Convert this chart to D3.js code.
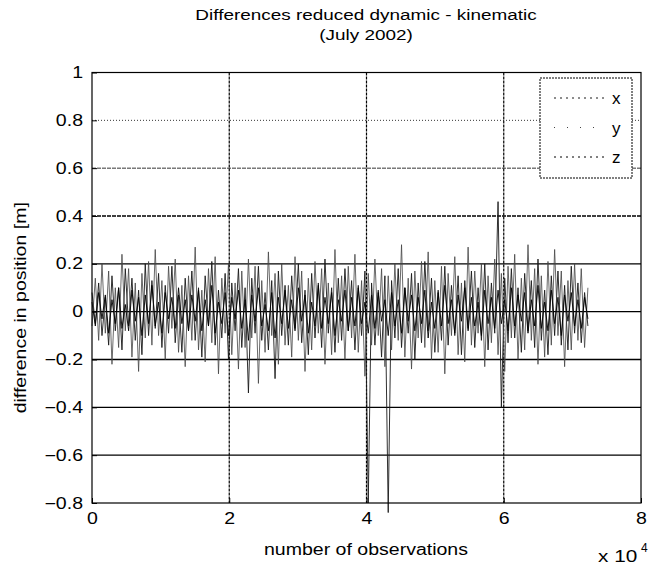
<!DOCTYPE html>
<html>
<head>
<meta charset="utf-8">
<script src="https://cdn.jsdelivr.net/npm/d3@7"></script>
<style>
  body { margin: 0; background: #fff; }
  svg { font-family: "Liberation Sans", Arial, sans-serif; }
</style>
</head>
<body>
<div id="chart"></div>
<script>
const width = 653;
const height = 566;
const margin = { top: 72.5, right: 12, bottom: 63, left: 92 };

// observations are equally spaced samples (every 485th epoch)
const obsStep = 485;

const xTicks = [0, 2, 4, 6, 8];
const yTicks = [-0.8, -0.6, -0.4, -0.2, 0, 0.2, 0.4, 0.6, 0.8, 1];

const diffX = [
  0.08,-0.05,0.12,-0.10,0.06,-0.14,0.15,-0.08,0.10,-0.16,0.18,-0.06,0.14,-0.12,0.09,-0.18,0.20,-0.10,0.13,-0.07,0.16,-0.15,0.11,-0.09,0.19,-0.13,0.07,-0.17,0.14,-0.08,
  0.17,-0.12,0.10,-0.19,0.15,-0.06,0.21,-0.14,0.09,-0.11,0.16,-0.20,0.12,-0.08,0.18,-0.15,0.10,-0.34,0.14,-0.09,0.19,-0.12,0.08,-0.16,0.13,-0.28,0.17,-0.10,0.11,-0.14,
  0.15,-0.07,0.20,-0.13,0.09,-0.18,0.16,-0.11,0.12,-0.15,0.22,-0.09,0.10,-0.17,0.14,-0.12,0.18,-0.08,0.13,-0.16,0.11,-0.10,0.17,-0.80,0.12,-0.14,0.09,-0.19,0.15,-0.84,
  0.13,-0.11,0.18,-0.15,0.10,-0.09,0.16,-0.20,0.12,-0.13,0.21,-0.08,0.14,-0.17,0.09,-0.12,0.19,-0.14,0.11,-0.10,0.15,-0.18,0.13,-0.07,0.17,-0.15,0.10,-0.12,0.20,-0.16,
  0.12,-0.09,0.46,-0.40,0.14,-0.13,0.18,-0.11,0.10,-0.17,0.16,-0.08,0.13,-0.15,0.22,-0.12,0.09,-0.18,0.15,-0.10,0.17,-0.14,0.11,-0.16,0.19,-0.09,0.12,-0.13,0.08,-0.06
];
const diffY = [
  -0.06,0.14,-0.12,0.20,-0.09,0.17,-0.22,0.10,-0.15,0.24,-0.08,0.18,-0.19,0.12,-0.25,0.16,-0.11,0.21,-0.14,0.26,-0.10,0.13,-0.20,0.19,-0.07,0.22,-0.17,0.11,-0.23,0.15,
  -0.12,0.27,-0.16,0.09,-0.21,0.18,-0.13,0.23,-0.26,0.14,-0.09,0.20,-0.18,0.12,-0.24,0.17,-0.15,0.22,-0.11,0.19,-0.30,0.13,-0.17,0.25,-0.10,0.16,-0.22,0.20,-0.14,0.11,
  -0.19,0.23,-0.12,0.17,-0.25,0.14,-0.16,0.21,-0.09,0.18,-0.22,0.12,-0.18,0.26,-0.13,0.15,-0.20,0.19,-0.11,0.24,-0.17,0.13,-0.27,0.16,-0.14,0.22,-0.10,0.18,-0.23,0.15,
  -0.16,0.20,-0.12,0.28,-0.19,0.14,-0.24,0.17,-0.11,0.21,-0.15,0.25,-0.20,0.13,-0.17,0.19,-0.26,0.16,-0.10,0.23,-0.18,0.12,-0.21,0.27,-0.14,0.17,-0.09,0.20,-0.23,0.15,
  -0.13,0.22,-0.18,0.16,-0.25,0.19,-0.11,0.24,-0.20,0.14,-0.16,0.28,-0.12,0.18,-0.22,0.15,-0.19,0.21,-0.14,0.26,-0.10,0.17,-0.23,0.13,-0.16,0.20,-0.12,0.18,-0.15,0.10
];
const diffZ = [
  0.04,-0.06,0.08,-0.03,0.07,-0.09,0.05,-0.05,0.10,-0.07,0.03,-0.08,0.09,-0.04,0.06,-0.10,0.07,-0.05,0.11,-0.06,0.04,-0.09,0.08,-0.03,0.06,-0.07,0.10,-0.05,0.05,-0.08,
  0.07,-0.04,0.09,-0.08,0.05,-0.06,0.11,-0.09,0.04,-0.05,0.08,-0.10,0.06,-0.03,0.09,-0.07,0.05,-0.12,0.07,-0.04,0.10,-0.06,0.03,-0.08,0.08,-0.11,0.06,-0.05,0.09,-0.07,
  0.05,-0.08,0.10,-0.04,0.07,-0.09,0.04,-0.06,0.11,-0.07,0.06,-0.05,0.08,-0.10,0.05,-0.04,0.09,-0.08,0.06,-0.06,0.10,-0.05,0.04,-0.09,0.07,-0.07,0.08,-0.04,0.05,-0.10,
  0.08,-0.06,0.05,-0.09,0.10,-0.04,0.07,-0.08,0.06,-0.05,0.09,-0.11,0.04,-0.07,0.08,-0.06,0.11,-0.05,0.05,-0.09,0.07,-0.04,0.10,-0.08,0.06,-0.06,0.04,-0.10,0.09,-0.05,
  0.06,-0.07,0.09,-0.05,0.05,-0.08,0.10,-0.06,0.07,-0.04,0.08,-0.09,0.05,-0.06,0.11,-0.07,0.04,-0.08,0.09,-0.05,0.06,-0.10,0.07,-0.04,0.08,-0.06,0.05,-0.07,0.06,-0.03
];

const series = [
  { name: "x", values: diffX, color: "#1a1a1a", width: 0.9 },
  { name: "y", values: diffY, color: "#444", width: 0.8 },
  { name: "z", values: diffZ, color: "#000", width: 0.9 }
];

// the scanned figure is a bit wider than normal text
const stretch = 1.22;
function widen(sel) {
  sel.each(function () {
    const len = this.getComputedTextLength();
    d3.select(this).attr("textLength", len * stretch).attr("lengthAdjust", "spacingAndGlyphs");
  });
}

const svg = d3
  .select("#chart")
  .append("svg")
  .attr("width", width)
  .attr("height", height);

svg.append("rect").attr("width", width).attr("height", height).attr("fill", "#fff");

const xScale = d3
  .scaleLinear()
  .domain([0, 8])
  .range([margin.left, width - margin.right]);

const yScale = d3
  .scaleLinear()
  .domain([-0.8, 1])
  .range([height - margin.bottom, margin.top]);

const plotLeft = xScale(0);
const plotRight = xScale(8);
const plotTop = yScale(1);
const plotBottom = yScale(-0.8);

// grid
svg
  .append("g")
  .selectAll("line")
  .data(yTicks.slice(1, -1))
  .enter()
  .append("line")
  .attr("x1", plotLeft)
  .attr("x2", plotRight)
  .attr("y1", (d) => yScale(d))
  .attr("y2", (d) => yScale(d))
  .attr("stroke", "#000")
  .attr("stroke-width", (d) => (d > 0.5 ? 0.8 : 1.3))
  .attr("stroke-dasharray", (d) => (d > 0.7 ? "1,2" : d > 0.3 ? "4,1" : null));

svg
  .append("g")
  .selectAll("line")
  .data(xTicks.slice(1, -1))
  .enter()
  .append("line")
  .attr("x1", (d) => xScale(d))
  .attr("x2", (d) => xScale(d))
  .attr("y1", plotTop)
  .attr("y2", plotBottom)
  .attr("stroke", "#000")
  .attr("stroke-width", 1.2)
  .attr("stroke-dasharray", "3,1");

// data lines
const line = d3
  .line()
  .x((d, i) => xScale((i * obsStep) / 1e4))
  .y((d) => yScale(d));

series.forEach((s) => {
  svg
    .append("path")
    .datum(s.values)
    .attr("fill", "none")
    .attr("stroke", s.color)
    .attr("stroke-width", s.width)
    .attr("d", line);
});

// axes box
svg
  .append("rect")
  .attr("x", plotLeft)
  .attr("y", plotTop)
  .attr("width", plotRight - plotLeft)
  .attr("height", plotBottom - plotTop)
  .attr("fill", "none")
  .attr("stroke", "#000")
  .attr("stroke-width", 1.2);

const xAxis = d3.axisBottom(xScale).tickValues(xTicks).tickSize(-5).tickPadding(10).tickFormat(d3.format("d"));
const yAxis = d3
  .axisLeft(yScale)
  .tickValues(yTicks)
  .tickSize(-5)
  .tickPadding(9)
  .tickFormat((d) => (d === 0 || d === 1 ? d : d3.format(".1f")(d)));

const gx = svg.append("g").attr("transform", `translate(0, ${plotBottom})`).call(xAxis);
const gy = svg.append("g").attr("transform", `translate(${plotLeft}, 0)`).call(yAxis);

[gx, gy].forEach((g) => {
  g.select(".domain").remove();
  g.selectAll("line").attr("stroke", "#000");
  g.selectAll("text").attr("fill", "#000").style("font-size", "16px").call(widen);
});

// title
svg
  .append("text")
  .attr("x", 366)
  .attr("y", 20)
  .attr("text-anchor", "middle")
  .style("font-size", "15.5px")
  .text("Differences reduced dynamic - kinematic")
  .call(widen);

svg
  .append("text")
  .attr("x", 366)
  .attr("y", 40)
  .attr("text-anchor", "middle")
  .style("font-size", "15.5px")
  .text("(July 2002)")
  .call(widen);

// axis labels
svg
  .append("text")
  .attr("x", 366)
  .attr("y", 555)
  .attr("text-anchor", "middle")
  .style("font-size", "16px")
  .text("number of observations")
  .call(widen);

const exp = svg.append("g").attr("transform", "translate(598, 562)");
exp.append("text").style("font-size", "17px").text("x 10").call(widen);
exp.append("text").attr("x", 43).attr("y", -10).style("font-size", "12px").text("4");

svg
  .append("text")
  .attr("transform", `translate(26, ${(plotTop + plotBottom) / 2 + 20}) rotate(-90)`)
  .attr("text-anchor", "middle")
  .style("font-size", "16px")
  .text("difference in position [m]")
  .call(widen);

// legend
const legend = svg.append("g").attr("transform", "translate(540, 78)");
legend
  .append("rect")
  .attr("width", 92)
  .attr("height", 100)
  .attr("fill", "#fff")
  .attr("stroke", "#000")
  .attr("stroke-dasharray", "2,1");

const legendRows = legend
  .selectAll("g")
  .data(series)
  .enter()
  .append("g")
  .attr("transform", (d, i) => `translate(0, ${20 + i * 29.5})`);

legendRows
  .append("line")
  .attr("x1", 14)
  .attr("x2", 64)
  .attr("stroke", (d) => d.color)
  .attr("stroke-width", 1)
  .attr("stroke-dasharray", (d) => (d.name === "y" ? "1,12" : "2,4"));

legendRows
  .append("text")
  .attr("x", 72)
  .attr("y", 6)
  .style("font-size", "17px")
  .text((d) => d.name);
</script>
</body>
</html>
